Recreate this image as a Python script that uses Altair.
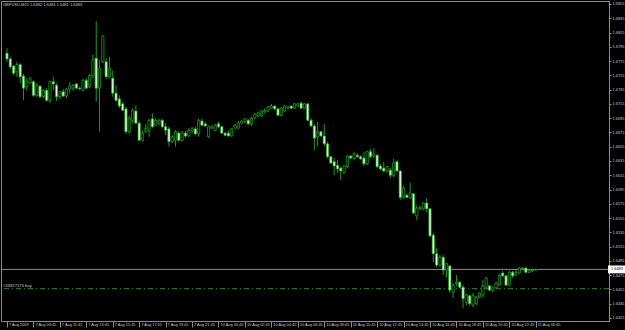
import altair as alt
import pandas as pd

# ---------------- data (GBPUSD, M15) ----------------
opens = [1.6786, 1.6778, 1.6768, 1.6760, 1.6770, 1.6754, 1.6739, 1.6744, 1.6746, 1.6727,
         1.6740, 1.6725, 1.6734, 1.6720, 1.6746, 1.6741, 1.6725, 1.6732, 1.6726, 1.6736,
         1.6737, 1.6743, 1.6737, 1.6734, 1.6748, 1.6739, 1.6754, 1.6779, 1.6737, 1.6774,
         1.6774, 1.6753, 1.6751, 1.6730, 1.6722, 1.6715, 1.6708, 1.6676, 1.6692, 1.6705,
         1.6688, 1.6664, 1.6676, 1.6678, 1.6694, 1.6685, 1.6688, 1.6692, 1.6683, 1.6680,
         1.6662, 1.6664, 1.6674, 1.6664, 1.6674, 1.6670, 1.6677, 1.6680, 1.6673, 1.6691,
         1.6687, 1.6669, 1.6681, 1.6678, 1.6687, 1.6683, 1.6674, 1.6674, 1.6670, 1.6681,
         1.6681, 1.6688, 1.6690, 1.6692, 1.6687, 1.6695, 1.6698, 1.6698, 1.6704, 1.6705,
         1.6709, 1.6712, 1.6708, 1.6699, 1.6705, 1.6709, 1.6712, 1.6709, 1.6712, 1.6716,
         1.6709, 1.6715, 1.6692, 1.6684, 1.6669, 1.6676, 1.6670, 1.6659, 1.6641, 1.6634,
         1.6629, 1.6625, 1.6619, 1.6627, 1.6642, 1.6639, 1.6643, 1.6641, 1.6639, 1.6631,
         1.6648, 1.6642, 1.6643, 1.6628, 1.6625, 1.6621, 1.6622, 1.6615, 1.6634, 1.6621,
         1.6584, 1.6587, 1.6583, 1.6589, 1.6558, 1.6568, 1.6568, 1.6576, 1.6568, 1.6531,
         1.6505, 1.6489, 1.6500, 1.6482, 1.6488, 1.6451, 1.6463, 1.6465, 1.6458, 1.6437,
         1.6446, 1.6433, 1.6435, 1.6444, 1.6447, 1.6458, 1.6460, 1.6453, 1.6457, 1.6461,
         1.6478, 1.6474, 1.6461, 1.6479, 1.6475, 1.6478, 1.6484, 1.6485, 1.6479, 1.6481,
         1.6482]
highs = [1.6793, 1.6781, 1.6770, 1.6774, 1.6772, 1.6757, 1.6751, 1.6753, 1.6748, 1.6744,
         1.6741, 1.6736, 1.6737, 1.6748, 1.6753, 1.6744, 1.6733, 1.6736, 1.6737, 1.6746,
         1.6743, 1.6744, 1.6739, 1.6750, 1.6751, 1.6757, 1.6784, 1.6831, 1.6777, 1.6811,
         1.6779, 1.6781, 1.6762, 1.6741, 1.6727, 1.6718, 1.6711, 1.6698, 1.6709, 1.6713,
         1.6691, 1.6677, 1.6687, 1.6694, 1.6702, 1.6695, 1.6694, 1.6694, 1.6688, 1.6683,
         1.6671, 1.6678, 1.6677, 1.6677, 1.6677, 1.6681, 1.6683, 1.6683, 1.6694, 1.6694,
         1.6690, 1.6684, 1.6685, 1.6687, 1.6690, 1.6684, 1.6676, 1.6678, 1.6681, 1.6687,
         1.6691, 1.6692, 1.6695, 1.6694, 1.6697, 1.6702, 1.6704, 1.6706, 1.6709, 1.6712,
         1.6715, 1.6713, 1.6709, 1.6711, 1.6713, 1.6712, 1.6713, 1.6716, 1.6716, 1.6718,
         1.6716, 1.6716, 1.6695, 1.6687, 1.6690, 1.6677, 1.6687, 1.6662, 1.6642, 1.6639,
         1.6636, 1.6627, 1.6629, 1.6643, 1.6643, 1.6648, 1.6646, 1.6643, 1.6648, 1.6649,
         1.6652, 1.6653, 1.6645, 1.6631, 1.6634, 1.6628, 1.6625, 1.6638, 1.6636, 1.6622,
         1.6600, 1.6589, 1.6605, 1.6590, 1.6573, 1.6572, 1.6577, 1.6583, 1.6569, 1.6534,
         1.6513, 1.6503, 1.6503, 1.6492, 1.6488, 1.6464, 1.6475, 1.6467, 1.6461, 1.6449,
         1.6447, 1.6450, 1.6446, 1.6451, 1.6468, 1.6472, 1.6461, 1.6460, 1.6465, 1.6477,
         1.6481, 1.6475, 1.6481, 1.6481, 1.6482, 1.6486, 1.6486, 1.6486, 1.6484, 1.6484,
         1.6484]
lows = [1.6774, 1.6764, 1.6755, 1.6753, 1.6744, 1.6720, 1.6734, 1.6743, 1.6725, 1.6725,
        1.6723, 1.6723, 1.6718, 1.6716, 1.6734, 1.6719, 1.6722, 1.6725, 1.6723, 1.6730,
        1.6733, 1.6736, 1.6734, 1.6733, 1.6736, 1.6737, 1.6751, 1.6718, 1.6676, 1.6772,
        1.6750, 1.6751, 1.6725, 1.6718, 1.6709, 1.6705, 1.6673, 1.6673, 1.6688, 1.6687,
        1.6663, 1.6662, 1.6674, 1.6669, 1.6681, 1.6684, 1.6685, 1.6681, 1.6671, 1.6655,
        1.6660, 1.6655, 1.6662, 1.6662, 1.6667, 1.6669, 1.6673, 1.6671, 1.6669, 1.6684,
        1.6683, 1.6667, 1.6680, 1.6677, 1.6681, 1.6673, 1.6670, 1.6669, 1.6669, 1.6680,
        1.6680, 1.6687, 1.6688, 1.6685, 1.6684, 1.6694, 1.6697, 1.6697, 1.6702, 1.6704,
        1.6708, 1.6706, 1.6698, 1.6698, 1.6704, 1.6708, 1.6708, 1.6708, 1.6711, 1.6708,
        1.6708, 1.6691, 1.6683, 1.6650, 1.6655, 1.6669, 1.6656, 1.6639, 1.6631, 1.6615,
        1.6618, 1.6608, 1.6617, 1.6625, 1.6638, 1.6636, 1.6639, 1.6636, 1.6628, 1.6629,
        1.6639, 1.6639, 1.6625, 1.6622, 1.6619, 1.6619, 1.6611, 1.6612, 1.6619, 1.6580,
        1.6582, 1.6583, 1.6582, 1.6561, 1.6552, 1.6566, 1.6566, 1.6563, 1.6528, 1.6493,
        1.6486, 1.6488, 1.6475, 1.6472, 1.6450, 1.6443, 1.6460, 1.6457, 1.6429, 1.6433,
        1.6432, 1.6430, 1.6433, 1.6443, 1.6444, 1.6457, 1.6453, 1.6451, 1.6456, 1.6460,
        1.6472, 1.6460, 1.6460, 1.6471, 1.6474, 1.6477, 1.6482, 1.6478, 1.6478, 1.6479,
        1.6481]
closes = [1.6778, 1.6767, 1.6758, 1.6770, 1.6753, 1.6737, 1.6746, 1.6750, 1.6727, 1.6741,
          1.6725, 1.6734, 1.6720, 1.6746, 1.6743, 1.6725, 1.6732, 1.6726, 1.6736, 1.6740,
          1.6741, 1.6737, 1.6736, 1.6748, 1.6737, 1.6755, 1.6777, 1.6737, 1.6765, 1.6810,
          1.6753, 1.6765, 1.6730, 1.6720, 1.6712, 1.6706, 1.6676, 1.6695, 1.6706, 1.6688,
          1.6664, 1.6674, 1.6681, 1.6692, 1.6683, 1.6692, 1.6692, 1.6683, 1.6678, 1.6662,
          1.6669, 1.6676, 1.6664, 1.6674, 1.6670, 1.6678, 1.6680, 1.6673, 1.6692, 1.6685,
          1.6684, 1.6683, 1.6683, 1.6685, 1.6683, 1.6674, 1.6671, 1.6670, 1.6680, 1.6685,
          1.6688, 1.6691, 1.6694, 1.6687, 1.6695, 1.6701, 1.6702, 1.6705, 1.6706, 1.6711,
          1.6712, 1.6708, 1.6699, 1.6709, 1.6712, 1.6711, 1.6709, 1.6715, 1.6715, 1.6709,
          1.6715, 1.6692, 1.6684, 1.6667, 1.6676, 1.6670, 1.6659, 1.6641, 1.6632, 1.6628,
          1.6624, 1.6621, 1.6628, 1.6642, 1.6639, 1.6645, 1.6641, 1.6638, 1.6631, 1.6648,
          1.6641, 1.6645, 1.6627, 1.6624, 1.6621, 1.6627, 1.6615, 1.6632, 1.6621, 1.6584,
          1.6597, 1.6584, 1.6590, 1.6562, 1.6569, 1.6570, 1.6576, 1.6568, 1.6530, 1.6505,
          1.6489, 1.6500, 1.6482, 1.6491, 1.6454, 1.6461, 1.6465, 1.6458, 1.6442, 1.6447,
          1.6435, 1.6446, 1.6444, 1.6450, 1.6460, 1.6471, 1.6454, 1.6457, 1.6464, 1.6475,
          1.6474, 1.6461, 1.6479, 1.6474, 1.6479, 1.6485, 1.6485, 1.6479, 1.6482, 1.6482,
          1.6483]

time_labels = ["7 Aug 2009", "7 Aug 09:45", "7 Aug 11:45", "7 Aug 13:45", "7 Aug 15:45",
               "7 Aug 17:45", "7 Aug 19:45", "7 Aug 21:45", "10 Aug 00:45", "10 Aug 02:45",
               "10 Aug 04:45", "10 Aug 06:45", "10 Aug 08:45", "10 Aug 10:45", "10 Aug 12:45",
               "10 Aug 14:45", "10 Aug 16:45", "10 Aug 18:45", "10 Aug 20:45", "10 Aug 22:45",
               "11 Aug 00:45"]
time_tick_bars = [0, 8, 16, 24, 32, 40, 48, 56, 64, 72, 80, 88, 96, 104, 112, 120, 128,
                  136, 144, 152, 160]
price_ticks = [1.6415, 1.6435, 1.6455, 1.6475, 1.6495, 1.6515, 1.6535, 1.6555, 1.6575,
               1.6595, 1.6615, 1.6635, 1.6655, 1.6675, 1.6695, 1.6715, 1.6735, 1.6755,
               1.6775, 1.6795, 1.6815, 1.6835, 1.6855]

current_price = 1.6483
order_price = 1.6456
order_label = "#36927175 buy"
header_text = "GBPUSD,M15  1.6482 1.6484 1.6481 1.6483"

# ---------------- styling ----------------
FONT = "Liberation Sans"
TXT = "#c8c8c8"
GRAY = "#8c8c8c"
WICK = "#1a9a1a"
W, H = 608, 320

df = pd.DataFrame({"i": list(range(len(opens))), "open": opens, "high": highs,
                   "low": lows, "close": closes})
df["dir"] = ["up" if c >= o else "down" for o, c in zip(opens, closes)]

xs = alt.Scale(domain=[-0.3, 180.65], nice=False, zero=False)
ys = alt.Scale(domain=[1.64107, 1.68592], nice=False, zero=False)

label_expr = "[" + ",".join("'" + s + "'" for s in time_labels) + "][round(datum.value / 8)]"

x_axis = alt.Axis(values=time_tick_bars, labelExpr=label_expr, orient="bottom",
                  tickSize=6, tickColor=GRAY, domainColor=GRAY, labelColor=TXT,
                  labelFont=FONT, labelFontSize=3.9, labelAlign="left", labelBaseline="top",
                  labelPadding=-5, labelOffset=1.5, grid=False, title=None,
                  labelOverlap=False, labelFlush=False)
y_axis = alt.Axis(values=price_ticks, format=".4f", orient="right", tickSize=2,
                  tickColor=GRAY, domainColor=GRAY, labelColor=TXT, labelFont=FONT,
                  labelFontSize=3.9, labelPadding=1, grid=False, title=None,
                  labelOverlap=False, labelFlush=False)

base = alt.Chart(df)

wicks = base.mark_rule(color=WICK, strokeWidth=1).encode(
    x=alt.X("i:Q", scale=xs, axis=x_axis),
    y=alt.Y("low:Q", scale=ys, axis=y_axis),
    y2="high:Q",
)

bodies = base.mark_bar(size=2.2, stroke="#22b022", strokeWidth=0.7).encode(
    x=alt.X("i:Q", scale=xs, axis=x_axis),
    y=alt.Y("open:Q", scale=ys, axis=y_axis),
    y2="close:Q",
    fill=alt.Fill("dir:N", scale=alt.Scale(domain=["up", "down"],
                                            range=["#000000", "#e2fbe2"]), legend=None),
)

pdf = pd.DataFrame({"p": [current_price]})
odf = pd.DataFrame({"p": [order_price], "t": [order_label]})
hdf = pd.DataFrame({"t": [header_text]})

price_line = alt.Chart(pdf).mark_rule(color=GRAY, strokeWidth=1).encode(
    y=alt.Y("p:Q", scale=ys, axis=y_axis))

order_line = alt.Chart(odf).mark_rule(color="#2c8c2c", strokeWidth=1,
                                      strokeDash=[5, 3, 1, 3]).encode(
    y=alt.Y("p:Q", scale=ys, axis=y_axis))

order_text = alt.Chart(odf).mark_text(align="left", baseline="bottom", font=FONT,
                                      fontSize=4.2, color=TXT, dy=-0.5).encode(
    x=alt.value(2), y=alt.Y("p:Q", scale=ys, axis=y_axis), text="t:N")

tag = alt.Chart(pdf).transform_calculate(
    lo="datum.p - 0.00055", hi="datum.p + 0.00055"
).mark_rect(color="#ffffff").encode(
    x=alt.value(607), x2=alt.value(624),
    y=alt.Y("lo:Q", scale=ys, axis=y_axis), y2="hi:Q")

tag_text = alt.Chart(pdf).mark_text(align="left", baseline="middle", font=FONT,
                                    fontSize=3.9, color="#000000").encode(
    x=alt.value(610), y=alt.Y("p:Q", scale=ys, axis=y_axis),
    text=alt.Text("p:Q", format=".4f"))

header = alt.Chart(hdf).mark_text(align="left", baseline="middle", font=FONT,
                                  fontSize=4.0, color=TXT).encode(
    x=alt.value(2), y=alt.value(4), text="t:N")

chart = alt.layer(
    order_line, price_line, wicks, bodies, order_text, header, tag, tag_text
).properties(
    width=W, height=H,
    background="#000000",
    padding={"left": 1, "top": 1, "right": 16, "bottom": 9},
    autosize=alt.AutoSizeParams(type="none"),
).configure_view(
    stroke=GRAY, strokeWidth=1, fill="#000000"
)

chart.save("out.html", embed_options={"renderer": "svg", "actions": False})
